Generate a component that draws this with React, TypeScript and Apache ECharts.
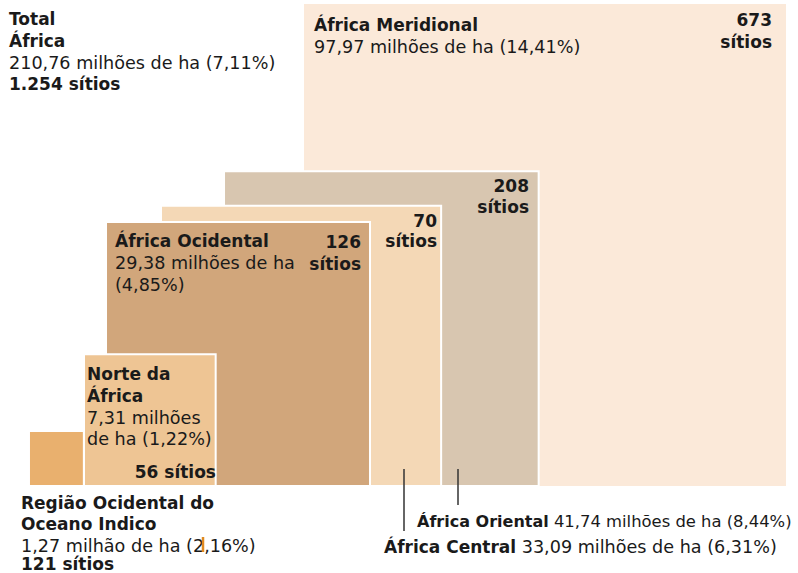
import React, { useEffect, useRef } from "react";
import * as echarts from "echarts";

const regions = [
  "África Meridional",
  "África Oriental",
  "África Central",
  "África Ocidental",
  "Norte da África",
  "Região Ocidental do Oceano Indico",
];
const areaMha = [97.97, 41.74, 33.09, 29.38, 7.31, 1.27];
const sharePct = [14.41, 8.44, 6.31, 4.85, 1.22, 2.16];
const sites = [673, 208, 70, 126, 56, 121];
const totalSharePct = 7.11;
// layout: left edge of each square in sqrt(million ha) units
const leftEdge = [6.242, 4.6, 3.306, 2.177, 1.725, 0.595];
const colors = ["#fbe9d9", "#d8c6b0", "#f4d8b6", "#d1a67b", "#eec594", "#e9b06e"];

const PX = 48.7; // pixels per sqrt(million ha)
const W = 798;
const H = 573;
const BASE = 486;
const FONT = "'DejaVu Sans', Verdana, sans-serif";
const FSB = 17;
const FSR = 17.6;

const fmt = (v: number) => v.toFixed(2).replace(".", ",");
const fmtInt = (v: number) => v.toLocaleString("de-DE");

function txt(x: number, y: number, text: string, bold: boolean, align: string = "left", size?: number, rich?: any) {
  const fs = size ?? (bold ? FSB : FSR);
  return {
    type: "text",
    x,
    y,
    z: 10,
    silent: true,
    style: {
      text,
      x: 0,
      y: 0,
      fill: "#1a1a1a",
      fontFamily: FONT,
      fontSize: fs,
      fontWeight: bold ? "bold" : "normal",
      textAlign: align,
      textVerticalAlign: "middle",
      verticalAlign: "middle",
      rich,
    },
  };
}

export default function App() {
  const ref = useRef<HTMLDivElement>(null);
  useEffect(() => {
    if (!ref.current) return;
    const chart = echarts.init(ref.current, null, { renderer: "svg" });
    const totalArea = areaMha.reduce((a, b) => a + b, 0);
    const totalSites = sites.reduce((a, b) => a + b, 0);
    const data = areaMha.map((a, i) => [leftEdge[i], Math.sqrt(a), i]);

    const lbl = (i: number, unit = "milhões") => `${fmt(areaMha[i])} ${unit} de ha (${fmt(sharePct[i])}%)`;
    const richB = (s: number) => ({ b: { fontWeight: "bold", fontSize: s, fontFamily: FONT, fill: "#1a1a1a" } });

    const graphics: any[] = [
      // Total
      txt(9, 19, "Total", true),
      txt(9, 41, "África", true),
      txt(9, 63, `${fmt(totalArea)} milhões de ha (${fmt(totalSharePct)}%)`, false),
      txt(9, 84, `${fmtInt(totalSites)} sítios`, true),
      // Meridional
      txt(314, 25, regions[0], true),
      txt(314, 47, lbl(0), false),
      txt(772, 20, String(sites[0]), true, "right"),
      txt(772, 42, "sítios", true, "right"),
      // Oriental sites
      txt(529, 186, String(sites[1]), true, "right"),
      txt(529, 207, "sítios", true, "right"),
      // Central sites
      txt(437, 221, String(sites[2]), true, "right"),
      txt(437, 241, "sítios", true, "right"),
      // Ocidental
      txt(115, 241, regions[3], true),
      txt(115, 263, `${fmt(areaMha[3])} milhões de ha`, false),
      txt(115, 285, `(${fmt(sharePct[3])}%)`, false),
      txt(361, 242, String(sites[3]), true, "right"),
      txt(361, 264, "sítios", true, "right"),
      // Norte
      txt(87, 374, "Norte da", true),
      txt(87, 396, "África", true),
      txt(87, 418, `${fmt(areaMha[4])} milhões`, false),
      txt(87, 439, `de ha (${fmt(sharePct[4])}%)`, false),
      txt(216, 472, `${sites[4]} sítios`, true, "right"),
      // Região
      txt(21, 503, "Região Ocidental do", true),
      txt(21, 524, "Oceano Indico", true),
      txt(21, 546, lbl(5, "milhão"), false),
      txt(21, 564, `${sites[5]} sítios`, true),
      // Oriental / Central labels
      txt(417, 521, `{b|${regions[1]}} ${lbl(1)}`, false, "left", 16.4, richB(16)),
      txt(384, 547, `{b|${regions[2]}} ${lbl(2)}`, false, "left", FSR, richB(FSB)),
      // leader lines
      { type: "line", z: 10, silent: true, shape: { x1: 458, y1: 469, x2: 458, y2: 505 }, style: { stroke: "#333", lineWidth: 1.5 } },
      { type: "line", z: 10, silent: true, shape: { x1: 404, y1: 469, x2: 404, y2: 531 }, style: { stroke: "#333", lineWidth: 1.5 } },
      { type: "line", z: 10, silent: true, shape: { x1: 203, y1: 537, x2: 203, y2: 552 }, style: { stroke: "#e08a20", lineWidth: 2.5 } },
    ];

    chart.setOption({
      animation: false,
      grid: { left: 0, right: 0, top: 0, bottom: H - BASE },
      xAxis: { type: "value", min: 0, max: W / PX, show: false },
      yAxis: { type: "value", min: 0, max: BASE / PX, show: false },
      series: [
        {
          type: "custom",
          data,
          z: 1,
          renderItem: (params: any, api: any) => {
            const x0 = api.value(0);
            const side = api.value(1);
            const idx = api.value(2);
            const tl = api.coord([x0, side]);
            const br = api.coord([x0 + side, 0]);
            return {
              type: "rect",
              shape: { x: tl[0], y: tl[1], width: br[0] - tl[0], height: br[1] - tl[1] },
              style: { fill: colors[idx], stroke: "#ffffff", lineWidth: idx === 0 ? 0 : 2 },
            };
          },
          silent: true,
        },
      ],
      graphic: graphics,
    });
    return () => chart.dispose();
  }, []);
  return <div ref={ref} style={{ position: "absolute", left: 0, top: 0, width: W, height: H, background: "#fff" }} />;
}
